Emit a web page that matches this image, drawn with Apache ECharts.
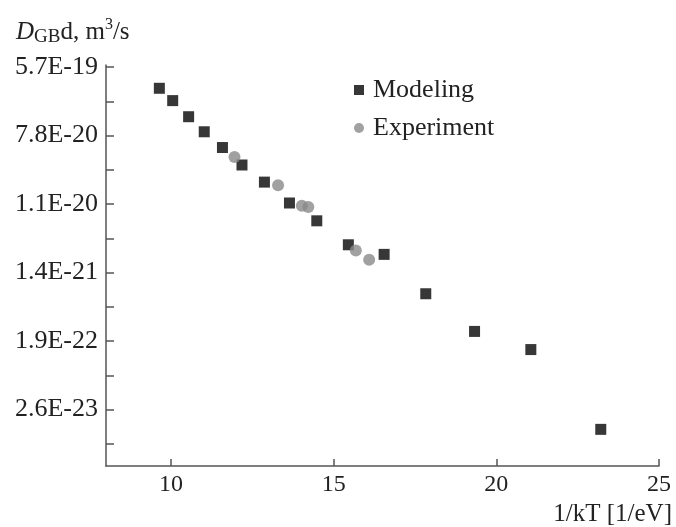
<!DOCTYPE html>
<html><head><meta charset="utf-8">
<script src="https://cdn.jsdelivr.net/npm/echarts@6/dist/echarts.min.js"></script>
<style>html,body{margin:0;padding:0;background:#fff}#c{width:676px;height:527px}</style>
</head><body><div id="c"></div>
<script>
// 1/kT [1/eV]
const modelingX = [9.64, 10.05, 10.54, 11.02, 11.58, 12.18, 12.87, 13.64, 14.48, 15.45, 16.55, 17.83, 19.33, 21.06, 23.21];
// ln(D_GB d) values (axis is natural-log scaled)
const modelingLnD = [-42.62, -42.98, -43.45, -43.89, -44.35, -44.86, -45.36, -45.97, -46.49, -47.19, -47.47, -48.62, -49.72, -50.25, -52.58];
const experimentX = [11.95, 13.29, 14.02, 14.22, 15.68, 16.09];
const experimentLnD = [-44.63, -45.45, -46.05, -46.09, -47.36, -47.63];
const xTickValues = [10, 15, 20, 25];
const yLabelValues = [-52, -50, -48, -46, -44, -42];
const yTickValues = [-53, -52, -51, -50, -49, -48, -47, -46, -45, -44, -43, -42];

const serif = 'Liberation Serif';
const axisColor = '#555';
const chart = echarts.init(document.getElementById('c'), null, {renderer: 'canvas'});
const zip = (xs, ys) => xs.map((x, i) => [x, ys[i]]);

chart.setOption({
  animation: false,
  backgroundColor: '#fff',
  title: {
    left: 11, top: 12,
    text: '{i|D}{sub|GB}{n|d, m}{sup|3}{n|/s}',
    textStyle: {
      fontWeight: 'normal',
      rich: {
        i: {fontFamily: serif, fontStyle: 'italic', fontWeight: 'normal', fontSize: 25, color: '#222', lineHeight: 30},
        n: {fontFamily: serif, fontWeight: 'normal', fontSize: 25, color: '#222', lineHeight: 30},
        sub: {fontFamily: serif, fontWeight: 'normal', fontSize: 19, color: '#222', lineHeight: 18, verticalAlign: 'bottom'},
        sup: {fontFamily: serif, fontWeight: 'normal', fontSize: 16, color: '#222', lineHeight: 16, verticalAlign: 'top'}
      }
    }
  },
  legend: {
    left: 349, top: 71, orient: 'vertical',
    itemWidth: 10, itemHeight: 10, itemGap: 10,
    textStyle: {fontFamily: serif, fontSize: 26, color: '#222', lineHeight: 28, padding: [0, 0, 0, 4]},
    data: [{name: 'Modeling', icon: 'rect'}, {name: 'Experiment', icon: 'circle'}]
  },
  grid: {left: 106, right: 17, top: 65, bottom: 60, containLabel: false},
  xAxis: {
    type: 'value', min: 8, max: 25,
    name: '1/kT [1/eV]', nameLocation: 'end', nameGap: 13,
    nameTextStyle: {fontFamily: serif, fontSize: 25, color: '#222', align: 'right', verticalAlign: 'top', padding: [36, 0, 0, 0]},
    axisLine: {show: true, onZero: false, lineStyle: {color: axisColor, width: 1.5}},
    axisTick: {show: true, inside: true, length: 7, customValues: xTickValues, lineStyle: {color: axisColor, width: 1.5}},
    axisLabel: {customValues: xTickValues, fontFamily: serif, fontSize: 24, color: '#222', margin: 7},
    splitLine: {show: false}
  },
  yAxis: {
    type: 'value', min: -53.65, max: -41.94,
    axisLine: {show: true, onZero: false, lineStyle: {color: axisColor, width: 1.5}},
    axisTick: {show: true, inside: true, length: 8, customValues: yTickValues, lineStyle: {color: axisColor, width: 1.5}},
    axisLabel: {
      customValues: yLabelValues, fontFamily: serif, fontSize: 26, color: '#222', margin: 8,
      formatter: v => Math.exp(v).toExponential(1).toUpperCase()
    },
    splitLine: {show: false}
  },
  series: [
    {name: 'Modeling', type: 'scatter', symbol: 'rect', symbolSize: 11,
     itemStyle: {color: '#050505'}, data: zip(modelingX, modelingLnD)},
    {name: 'Experiment', type: 'scatter', symbol: 'circle', symbolSize: 12,
     itemStyle: {color: '#8a8a8a'}, data: zip(experimentX, experimentLnD)}
  ]
});
</script></body></html>
